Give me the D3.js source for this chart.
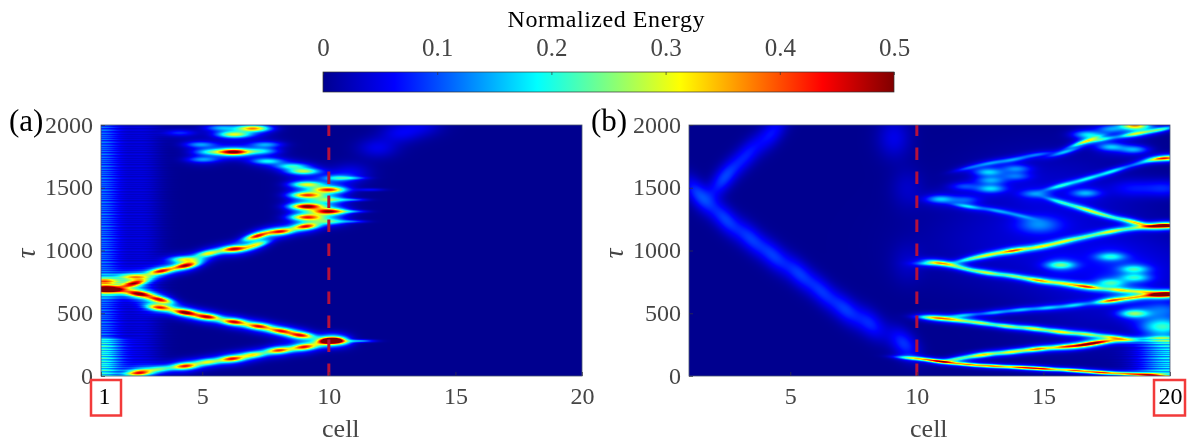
<!DOCTYPE html>
<html><head><meta charset="utf-8">
<script src="https://cdn.jsdelivr.net/npm/d3@7"></script>
<style>
html,body{margin:0;padding:0;background:#fff;width:1189px;height:441px;overflow:hidden}
#stage{position:relative;width:1189px;height:441px}
canvas{position:absolute;z-index:1}
svg{position:absolute;left:0;top:0;z-index:2}
text{font-family:"Liberation Serif",serif}
</style></head><body><div id="stage"></div>
<script>
// ---- values: [cell, tau, energy] ----
const xTicksA=[1,5,10,15,20];
const xTicksB=[5,10,15,20];
const yTicks=[0,500,1000,1500,2000];
const cbTicks=[0,0.1,0.2,0.3,0.4,0.5];
const jetStops=[0,0.0625,0.1875,0.3125,0.4375,0.5];
const jetColors=["#00008f","#0000ff","#00ffff","#ffff00","#ff0000","#800000"];
const streak=[1,.78,1.1,.7,.95,1.15,.76,.88,1.08,.74,1.04,.84];

// panel (a) ridges
const aRise=[[2.5,30,.4],[3.33,60,.2],[4.3,83,.42],[5.2,115,.28],[6.15,141,.42],[7,173,.3],[8,208,.4],[9,235,.42],[10,283,.5]];
const aFall=[[10.2,283,.42],[8.87,328,.42],[8.08,363,.4],[7.2,400,.42],[6.23,435,.45],[5.18,475,.45],[4.3,510,.4],[3.3,549,.38]];
const aFall2=[[4.3,510,.1],[3.3,613,.4],[2.47,659,.45],[1.5,693,.38],[1,693,.38]];
const aBack=[[2.28,741,.4],[3.36,840,.42],[4.32,883,.45],[5.24,981,.3],[6.23,1016,.45],[7.1,1048,.28],[7.15,1120,.42],[8.07,1155,.42],[9.06,1195,.42]];
const aBlobs=[[1.1,760,.26],[2.28,795,.28],[4.3,933,.25],[10,1235,.2],[9.1,1269,.38],[10,1315,.46],[9.1,1355,.48],[10,1408,.22],[9.1,1445,.38],[10,1488,.4],[9.1,1530,.28],[10.3,1581,.16],[9,1635,.26],[8.5,1675,.18],[7.55,1715,.18],[6.23,1789,.5],[5,1728,.13],[5.3,1789,.16],[7.3,1795,.16],[7.5,1848,.13],[4.9,1848,.13],[6.23,1928,.28],[7,1976,.36],[4.1,1941,.08],[5.7,1981,.13]];
const aTails=[[11.2,283,.14],[11.6,1488,.06],[10.9,1315,.1],[10.9,1235,.09],[10.9,1408,.1],[10.9,1581,.08]];
const aGlow=[[10.84,1621,.05],[11.9,1821,.05],[12.8,1941,.05],[13.7,1994,.04]];
// [cell, cell spread, tau from, tau to, energy]
const aWash=[[1,.6,0,300,.2],[1,.55,300,2000,.11],[2.6,.55,0,2000,.04]];

// panel (b) ridges
const bR1=[[19.2,13,.42],[18.3,21,.35],[17.25,32,.45],[16.2,48,.42],[15,61,.45],[14.1,72,.42],[13,83,.4],[12,96,.38],[10.9,120,.48],[10.1,141,.2],[9.67,147,.15]];
const bR2=[[11.6,141,.25],[12.6,173,.38],[13.7,195,.35],[14.74,219,.42],[15.8,237,.4],[16.6,253,.45],[17.25,275,.4],[18.3,293,.2],[19.35,304,.17],[19.95,304,.2]];
const bR3=[[17.8,309,.3],[16.7,336,.3],[15.66,355,.35],[14.6,381,.33],[13.55,400,.3],[12.5,427,.3],[11.6,448,.25],[10.9,464,.3],[10.46,469,.18]];
const bR4=[[11.84,488,.17],[13.03,509,.17],[14.08,531,.17],[15.14,547,.17],[16.2,568,.17],[17.64,605,.42],[18.56,629,.3],[19.6,653,.5],[20,653,.5]];
const bR5=[[18.96,675,.25],[18,688,.3],[16.7,715,.42],[15.8,741,.28],[14.8,765,.38],[13.8,800,.25],[12.76,827,.3],[11.84,861,.22],[11,901,.3],[10.5,901,.2]];
const bR6=[[12,933,.2],[12.8,968,.28],[13.8,1003,.42],[14.87,1035,.3],[15.8,1077,.28],[16.7,1115,.2],[17.64,1155,.3],[18.56,1181,.2],[19.5,1200,.45],[20,1200,.45]];
const bR7=[[18.56,1229,.35],[17.5,1280,.2],[16.7,1328,.28],[15.66,1389,.2]];
const bU1=[[12,1661,.1],[12.9,1701,.12],[13.8,1728,.13],[14.74,1768,.12],[15.8,1787,.16],[16.6,1870,.28],[17.24,1888,.2],[18.6,1933,.3],[19.6,1968,.26]];
const bU2=[[15.66,1520,.2],[16.7,1576,.18],[17.7,1635,.2],[18.8,1700,.12],[19.6,1736,.3],[20,1736,.3]];
const bU3=[[12,1355,.18],[13.16,1320,.13],[14.08,1280,.1]];
const bBlobs=[[15.66,888,.2],[17.64,955,.15],[18.56,856,.15],[18.6,787,.14],[17.64,747,.16],[18.56,501,.22],[14.6,1456,.09],[16.65,1461,.12],[18.56,1808,.14],[17.64,1829,.15],[12.8,1629,.14],[13.9,1656,.1],[13.9,1595,.08],[12.9,1563,.1],[12.9,1496,.14],[11.84,1515,.08],[10.9,1413,.15],[11.9,1408,.08],[16.7,1928,.16],[17.64,1973,.12],[18.6,2000,.36]];
const bPatches=[[19.7,395,.2],[19.7,528,.09],[14.8,1208,.09],[19.8,1500,.07],[18.5,1500,.05]];
const bBand=[[9.47,261,.085],[8.15,421,.075],[7.17,533,.08],[6.24,675,.075],[5.32,821,.08],[4.33,960,.08],[3.41,1101,.08],[2.42,1253,.085],[1.37,1448,.09]];
const bBand2=[[2.36,1581,.09],[3.28,1768,.065],[4.27,1941,.065]];
const bGlow=[[9.08,1901,.05],[9.6,1500,.03],[9.6,900,.025]];
const bFill=[[15,1550,.02],[13,1050,.025],[17,900,.03],[16,1350,.02],[17,430,.015],[19,800,.03]];
const bWash=[[20,.85,0,290,.17]];

// ---- layout ----
const W=481,H=251;
const panels=[
 {name:"(a)",left:101,top:125,nameX:9,ticks:xTicksA,
  groups:[{rows:[aRise,aFall,aFall2,aBack],sx:.34,sy:2,shear:.45,halo:.3,gain:1},{rows:[aBlobs],sx:.42,sy:2,shear:0,halo:.3,gain:1},{rows:[aTails],sx:.4,sy:1.1,shear:0,halo:0,gain:1},{rows:[aGlow],sx:.55,sy:7,shear:0,halo:0,gain:1}],
  wash:aWash,boxed:"1"},
 {name:"(b)",left:689,top:125,nameX:591,ticks:xTicksB,
  groups:[{rows:[bR1],sx:.42,sy:1.05,shear:1,halo:.25,gain:.85},{rows:[bR2,bR3,bR4,bR5,bR6,bR7,bU1,bU2,bU3],sx:.38,sy:1.3,shear:1,halo:.4,gain:.82},{rows:[bBlobs],sx:.38,sy:2.6,shear:0,halo:.25,gain:1},{rows:[bPatches],sx:.6,sy:6,shear:0,halo:0,gain:1},{rows:[bBand,bBand2],sx:.42,sy:10,shear:.8,halo:0,gain:1},{rows:[bGlow],sx:.45,sy:14,shear:0,halo:0,gain:1},{rows:[bFill],sx:2.2,sy:28,shear:0,halo:0,gain:1}],
  wash:bWash,boxed:"20"}
];
const jet=d3.scaleLinear().domain(jetStops).range(jetColors).clamp(true);
const stage=d3.select("#stage");
const svg=stage.append("svg").attr("width",1189).attr("height",441);
const defs=svg.append("defs");
defs.append("filter").attr("id","soft").append("feGaussianBlur").attr("stdDeviation",.35);
const ink="#444";

function stamp(field,cx,cy,sxp,syp,slope,e){
  const i0=Math.max(0,Math.floor(cx-4*sxp)),i1=Math.min(W-1,Math.ceil(cx+4*sxp));
  for(let i=i0;i<=i1;i++){const dx=i-cx,mid=cy+slope*dx;
    const j0=Math.max(0,Math.floor(mid-4*syp)),j1=Math.min(H-1,Math.ceil(mid+4*syp));
    for(let j=j0;j<=j1;j++){const u=dx/sxp,v=(j-mid)/syp;field[j*W+i]+=e*Math.exp(-(u*u+v*v)/2);}}
}

panels.forEach(p=>{
  const x=d3.scaleLinear().domain([1,20]).range([0,W]);
  const y=d3.scaleLinear().domain([0,2000]).range([H,0]);
  const field=new Float32Array(W*H);
  p.wash.forEach(([c,s,t0,t1,e])=>{
    const sp=s*(x(2)-x(1)),cx=x(c),yA=Math.round(y(t1)),yB=Math.round(y(t0));
    for(let j=yA;j<yB;j++){const k=streak[j%streak.length];
      for(let i=0;i<W;i++){const d=(i-cx)/sp;if(Math.abs(d)<4)field[j*W+i]+=e*k*Math.exp(-d*d/2);}}
  });
  p.groups.forEach(g=>{
    const sxp=g.sx*(x(2)-x(1));
    g.rows.forEach(row=>row.forEach((b,idx)=>{
      let slope=0;
      if(g.shear){const a=row[Math.max(0,idx-1)],c=row[Math.min(row.length-1,idx+1)];
        const dx=x(c[0])-x(a[0]);if(Math.abs(dx)>1)slope=g.shear*(y(c[1])-y(a[1]))/dx;}
      const cx=x(b[0]),cy=y(b[1]),e=b[2]*g.gain;
      stamp(field,cx,cy,sxp,g.sy,slope,e*(1-g.halo));
      if(g.halo)stamp(field,cx,cy,sxp*1.25,g.sy*2.3,slope,e*g.halo);
    }));
  });
  const cv=stage.append("canvas").attr("width",W).attr("height",H)
    .style("left",p.left+"px").style("top",p.top+"px").node();
  const ctx=cv.getContext("2d"),img=ctx.createImageData(W,H);
  for(let n=0;n<field.length;n++){const c=d3.rgb(jet(field[n]));
    img.data[4*n]=c.r;img.data[4*n+1]=c.g;img.data[4*n+2]=c.b;img.data[4*n+3]=255;}
  ctx.putImageData(img,0,0);

  const g=svg.append("g").attr("transform",`translate(${p.left},${p.top})`);
  g.append("line").attr("x1",x(10)).attr("x2",x(10)).attr("y1",H).attr("y2",0)
    .attr("stroke","#b5103c").attr("stroke-width",3).attr("stroke-dasharray","12.5 11.5");
  g.append("rect").attr("width",W).attr("height",H).attr("fill","none").attr("stroke","#4a5570").attr("stroke-width",.8);
  const ax=g.append("g").attr("transform",`translate(0,${H})`).call(d3.axisBottom(x).tickValues(p.ticks).tickFormat(d3.format("d")).tickSize(-4));
  const ay=g.append("g").call(d3.axisLeft(y).tickValues(yTicks).tickFormat(d3.format("d")).tickSize(-4).tickPadding(8));
  [ax,ay].forEach(a=>{a.select(".domain").remove();a.selectAll("line").attr("stroke","#334").attr("stroke-width",.7);
    a.selectAll("text").attr("font-size",24).attr("fill",ink).attr("font-family","Liberation Serif").attr("filter","url(#soft)");});
  ax.selectAll("text").attr("dy",0).attr("y",27.5).attr("fill",d=>String(d)===p.boxed?"#000":ink);
  ay.selectAll("text").attr("dy","0.3em");
  const bx=x(+p.boxed);
  g.append("rect").attr("x",bx-(p.boxed==="1"?10:16)).attr("y",H+4).attr("width",p.boxed==="1"?30:31).attr("height",35.5)
    .attr("fill","none").attr("stroke","#f23a3a").attr("stroke-width",2.5);
  if(p.boxed==="1")ax.selectAll(".tick").filter(d=>d===1).select("text").attr("x",3);
  g.append("text").attr("x",x(10)+12).attr("y",H+61).attr("text-anchor","middle").attr("font-size",26).attr("fill",ink).attr("filter","url(#soft)").text("cell");
  g.append("text").attr("transform",`translate(-66,${H/2+3}) rotate(-90)`).attr("text-anchor","middle").attr("font-size",27).attr("font-style","italic").attr("fill",ink).text("τ");
  svg.append("text").attr("x",p.nameX).attr("y",131).attr("font-size",31).attr("fill","#000").attr("filter","url(#soft)").text(p.name);
});

// ---- colour bar ----
const cbX=d3.scaleLinear().domain([0,.5]).range([323,894]);
const grad=defs.append("linearGradient").attr("id","jetbar");
jetStops.forEach((s,i)=>grad.append("stop").attr("offset",s/.5).attr("stop-color",jetColors[i]));
svg.append("rect").attr("x",323).attr("y",72).attr("width",571).attr("height",20).attr("fill","url(#jetbar)").attr("stroke","#333").attr("stroke-width",.7);
const cbAxis=svg.append("g").attr("transform","translate(0,72)").call(d3.axisTop(cbX).tickValues(cbTicks).tickFormat(d=>d===0?"0":d3.format(".1f")(d)).tickSize(-3));
cbAxis.select(".domain").remove();
cbAxis.selectAll("line").attr("stroke","#333").attr("stroke-width",.7);
cbAxis.selectAll("text").attr("font-size",25).attr("fill",ink).attr("font-family","Liberation Serif").attr("filter","url(#soft)").attr("dy",0).attr("y",-16);
svg.append("text").attr("x",606).attr("y",27).attr("text-anchor","middle").attr("font-size",24).attr("textLength",197).attr("fill","#000").attr("filter","url(#soft)").text("Normalized Energy");
</script></body></html>
